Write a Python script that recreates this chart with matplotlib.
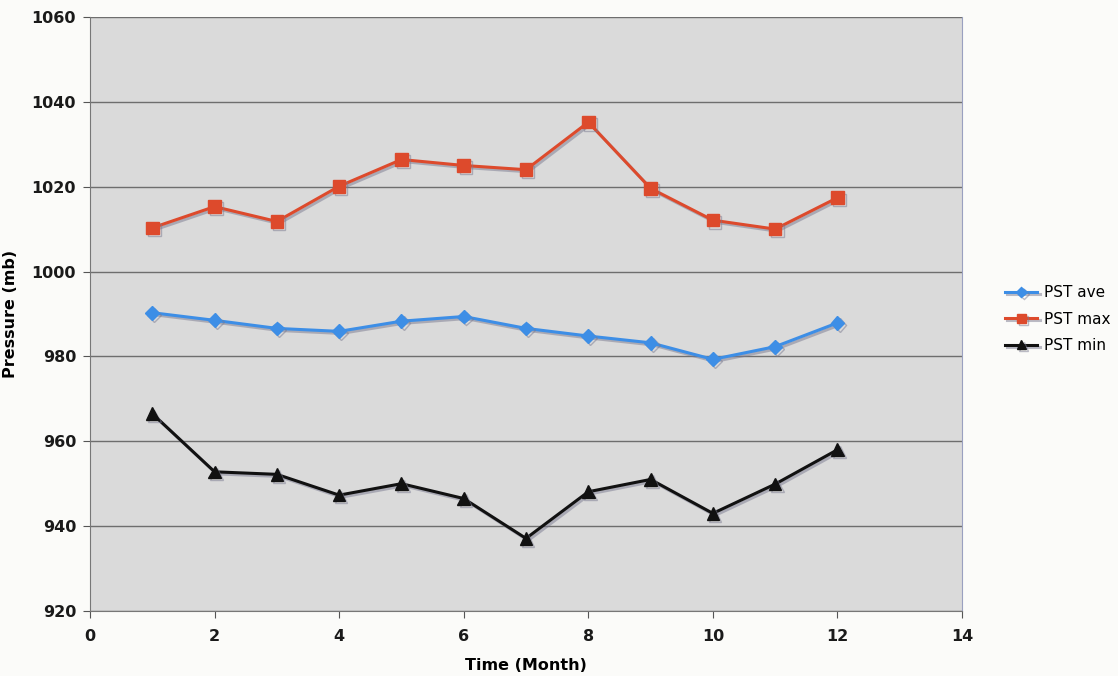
import matplotlib
matplotlib.use("Agg")
import matplotlib.pyplot as plt
import matplotlib.patheffects as pe

months = [1, 2, 3, 4, 5, 6, 7, 8, 9, 10, 11, 12]
pst_ave = [990.3, 988.5, 986.6, 985.9, 988.3, 989.4, 986.6, 984.8, 983.2, 979.3, 982.3, 987.9]
pst_max = [1010.3, 1015.3, 1011.8, 1020.1, 1026.4, 1025.0, 1024.0, 1035.2, 1019.6, 1012.1, 1010.0, 1017.4]
pst_min = [966.5, 952.8, 952.2, 947.3, 950.0, 946.5, 937.1, 948.1, 951.0, 943.0, 949.9, 958.0]
xticks = [0, 2, 4, 6, 8, 10, 12, 14]
yticks = [920, 940, 960, 980, 1000, 1020, 1040, 1060]

fig = plt.figure(figsize=(11.18, 6.76), dpi=100, facecolor="#fbfbf9")
ax = fig.add_axes([0.0805, 0.0962, 0.78, 0.8787])
ax.set_facecolor("#dadada")

shadow = [pe.SimpleLineShadow(offset=(1.5, -1.5), shadow_color="#7a7a90", alpha=0.5), pe.Normal()]

ax.plot(months, pst_ave, color="#3d8ee6", lw=2.2, marker="D", ms=7, label="PST ave", path_effects=shadow)
ax.plot(months, pst_max, color="#dd4a2c", lw=2.2, marker="s", ms=9, label="PST max", path_effects=shadow)
ax.plot(months, pst_min, color="#111111", lw=2.2, marker="^", ms=9, label="PST min", path_effects=shadow)

ax.set_xlim(0, 14)
ax.set_ylim(920, 1060)
ax.set_xticks(xticks)
ax.set_yticks(yticks)
ax.grid(axis="y", color="#6e6e6e", lw=1.0)
ax.set_axisbelow(True)
for s in ["left", "bottom"]:
    ax.spines[s].set_color("#777777")
ax.spines["top"].set_visible(False)
ax.spines["right"].set_color("#9aa0c0")
ax.tick_params(axis="both", direction="out", length=5, color="#555555", labelsize=11.5,
               labelcolor="#1a1a1a")
ax.tick_params(axis="x", pad=8)
ax.tick_params(axis="y", pad=5)
for lab in ax.get_xticklabels() + ax.get_yticklabels():
    lab.set_fontweight("semibold")
ax.set_xlabel("Time (Month)", fontsize=11.5, fontweight="bold", labelpad=10)
ax.set_ylabel("Pressure (mb)", fontsize=11.5, fontweight="bold", labelpad=10)

leg = fig.legend(loc="center left", bbox_to_anchor=(0.887, 0.528), frameon=False, fontsize=11,
                 handlelength=2.1, handletextpad=0.4, labelspacing=0.75, markerscale=0.75)

fig.savefig("out.png", dpi=100, facecolor=fig.get_facecolor())
